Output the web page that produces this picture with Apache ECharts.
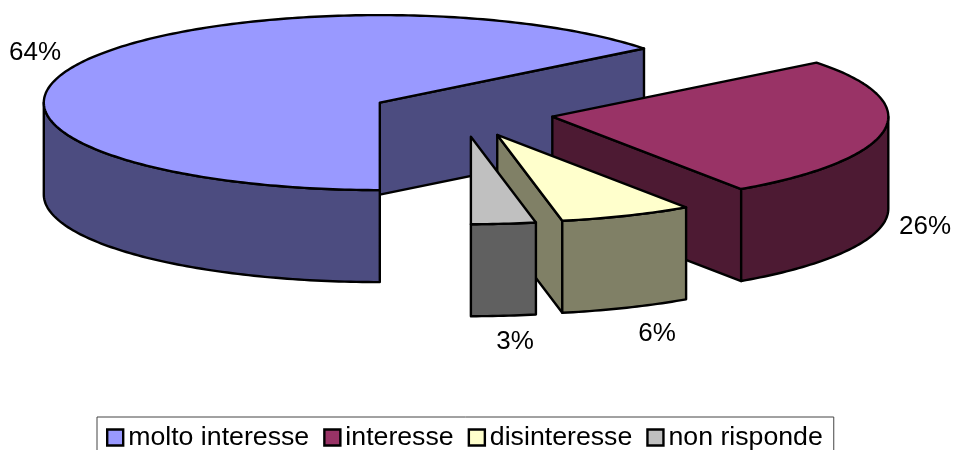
<!DOCTYPE html>
<html><head><meta charset="utf-8">
<script src="https://cdn.jsdelivr.net/npm/echarts@6/dist/echarts.min.js"></script>
<style>html,body{margin:0;background:#fff}#c{width:956px;height:450px}</style></head>
<body><div id="c"></div>
<script>
var categories = ['molto interesse', 'interesse', 'disinteresse', 'non risponde'];
var values = [64.4, 26.1, 6.4, 3.1];
var topColors = ['#9999FF', '#993366', '#FFFFCC', '#C0C0C0'];
var sideColors = ['#4C4C80', '#4D1A33', '#808066', '#606060'];
var labelPositions = [[35, 53], [925, 227], [657, 334], [515, 342]];

var PIE = { cx: 462, cy: 113, rx: 336, ry: 87.5, depth: 92, explode: 0.272, first: 180 };
var total = values.reduce(function (a, b) { return a + b; }, 0);
var RAD = Math.PI / 180;

function pt(c, a, dz) {
  return [c[0] + PIE.rx * Math.sin(a * RAD), c[1] - PIE.ry * Math.cos(a * RAD) + (dz || 0)];
}
function arc(c, a0, a1, dz) {
  var n = Math.max(2, Math.ceil(Math.abs(a1 - a0))), out = [];
  for (var i = 0; i <= n; i++) out.push(pt(c, a0 + (a1 - a0) * i / n, dz));
  return out;
}
function face(points, fill) {
  return { type: 'polygon', shape: { points: points },
    style: { fill: fill, stroke: '#000', lineWidth: 2.4, lineJoin: 'round' } };
}
function buildSlice(idx) {
  var before = 0;
  for (var i = 0; i < idx; i++) before += values[i];
  var a0 = PIE.first + before / total * 360;
  var a1 = a0 + values[idx] / total * 360;
  var mid = (a0 + a1) / 2;
  var c = [PIE.cx + PIE.explode * PIE.rx * Math.sin(mid * RAD),
           PIE.cy - PIE.explode * PIE.ry * Math.cos(mid * RAD)];
  var kids = [], side = sideColors[idx], d = PIE.depth;
  function radial(a) {
    var e = pt(c, a);
    return face([c, e, [e[0], e[1] + d], [c[0], c[1] + d]], side);
  }
  if (Math.sin(a1 * RAD) > 0.01) kids.push(radial(a1));
  if (Math.sin(a0 * RAD) < -0.01) kids.push(radial(a0));
  // outer wall: only the front half of the rim (90..270 degrees) can be seen
  for (var k = 0; k < 2; k++) {
    var lo = Math.max(a0, 90 + 360 * k), hi = Math.min(a1, 270 + 360 * k);
    if (hi > lo) kids.push(face(arc(c, lo, hi, 0).concat(arc(c, hi, lo, d)), side));
  }
  kids.push(face([c].concat(arc(c, a0, a1, 0)), topColors[idx]));
  kids.push({ type: 'text', style: { text: Math.round(values[idx]) + '%', x: labelPositions[idx][0], y: labelPositions[idx][1],
    align: 'center', verticalAlign: 'middle', font: '26px "Liberation Sans", Arial, sans-serif', fill: '#000' } });
  return { type: 'group', children: kids };
}

var chart = echarts.init(document.getElementById('c'), null, { renderer: 'canvas' });
chart.setOption({
  animation: false,
  backgroundColor: '#fff',
  legend: {
    data: categories, left: 97, top: 417, orient: 'horizontal',
    padding: [7, 11, 10, 9], itemGap: 14, itemWidth: 16, itemHeight: 16,
    icon: 'rect', borderColor: '#444', borderWidth: 1, selectedMode: false,
    textStyle: { fontFamily: '"Liberation Sans", Arial, sans-serif', fontSize: 26.7, color: '#000', padding: 0 },
    itemStyle: { borderColor: '#000', borderWidth: 2.4 }
  },
  series: categories.map(function (name, idx) {
    return {
      type: 'custom', name: name, coordinateSystem: 'none', silent: true,
      itemStyle: { color: topColors[idx] },
      data: [values[idx]],
      renderItem: function () { return buildSlice(idx); }
    };
  })
});
</script></body></html>
